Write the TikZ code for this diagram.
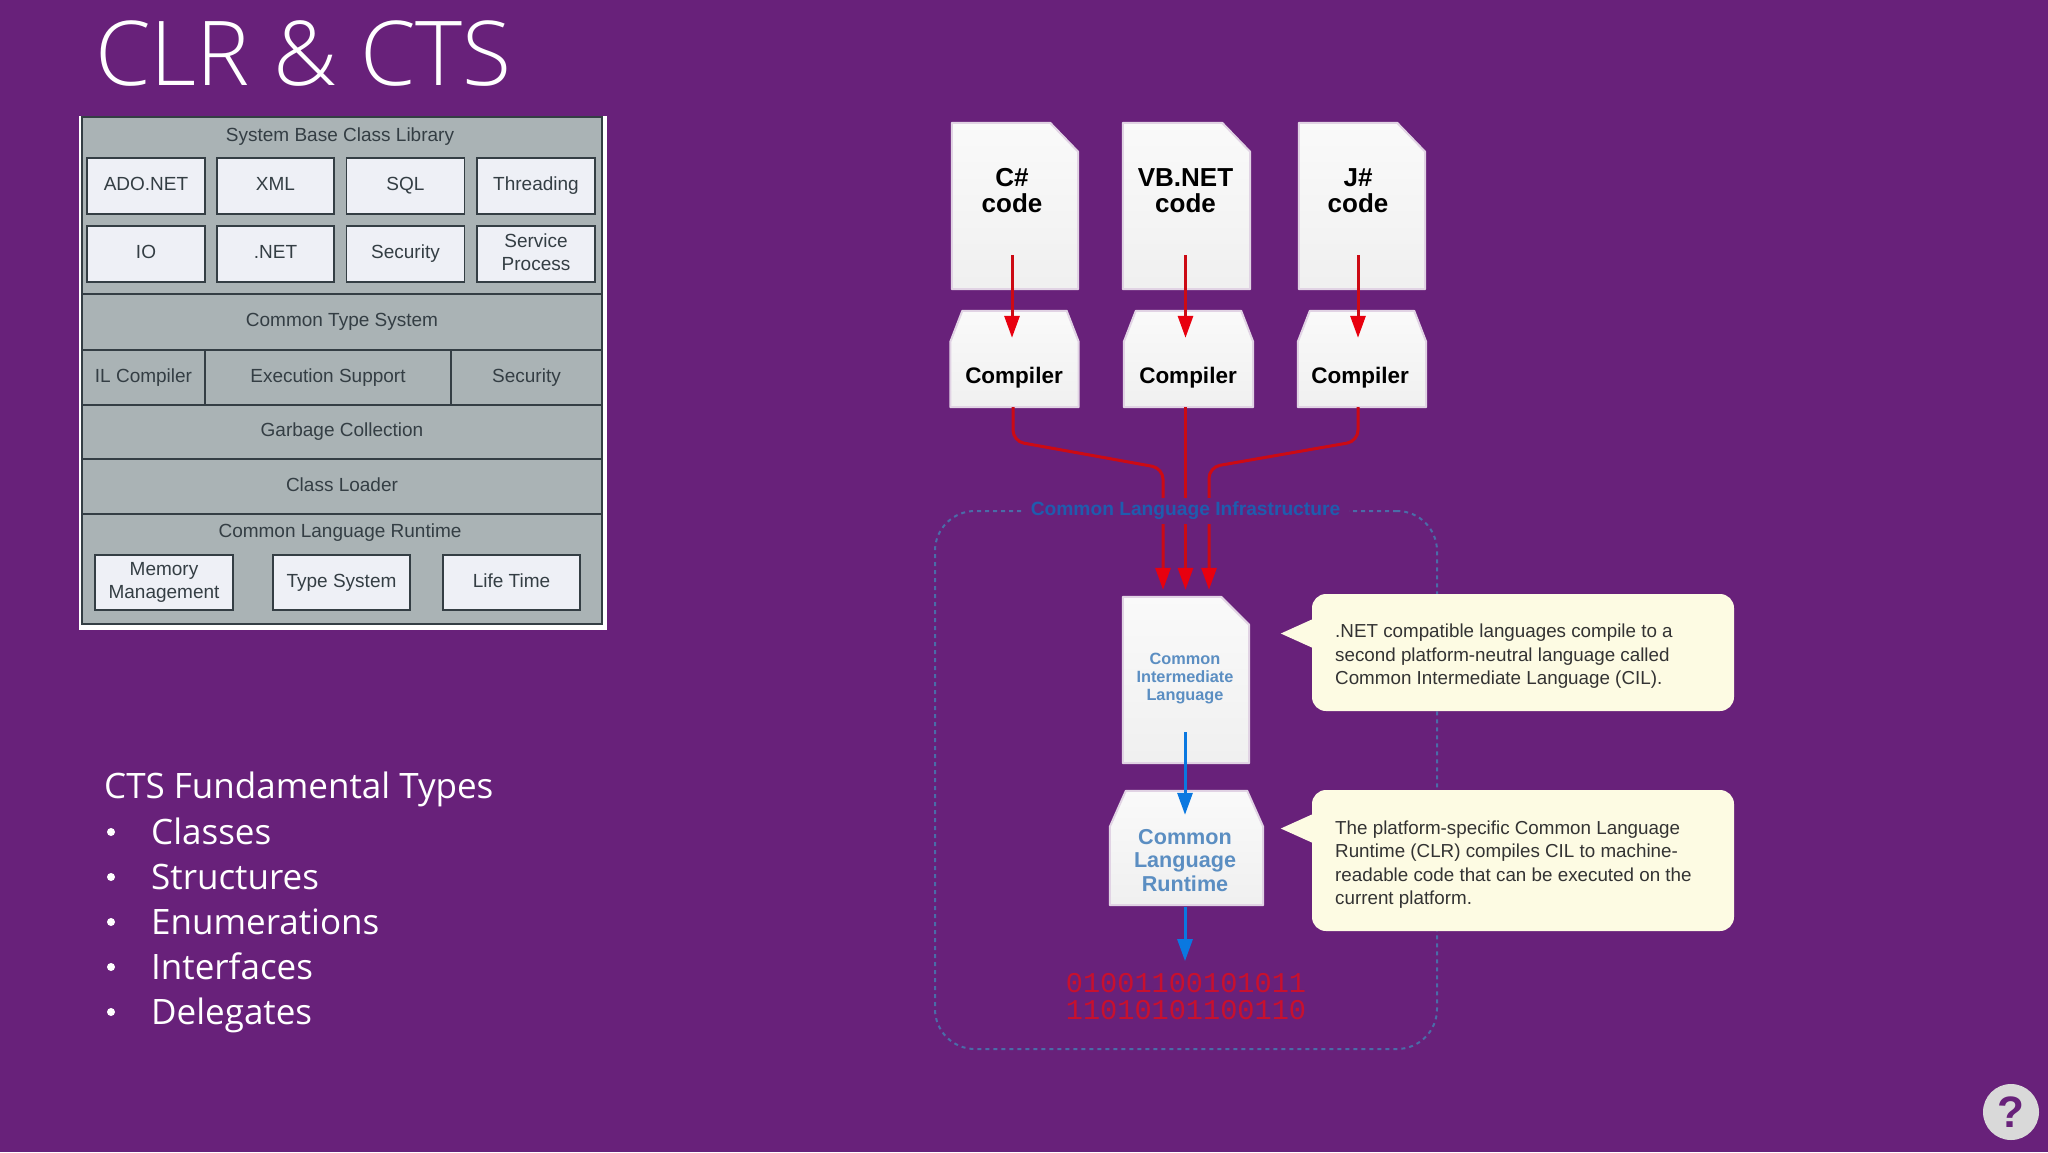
\documentclass[tikz,border=0pt]{standalone}
\usepackage{fontspec}
\setmainfont{Liberation Sans}
\newfontfamily\titlefont{Open Sans Light}
\newfontfamily\slidefont{Open Sans}
\newfontfamily\binaryfont{Liberation Mono}
\usepackage{xcolor}
\definecolor{slidebg}{HTML}{68217A}
\definecolor{panelgray}{HTML}{AAB3B5}
\definecolor{paneldark}{HTML}{343E44}
\definecolor{boxfill}{HTML}{EEF0F6}
\definecolor{arrowred}{HTML}{E8000F}
\definecolor{wirered}{HTML}{CC0A14}
\definecolor{arrowblue}{HTML}{0A78E0}
\definecolor{clitext}{HTML}{1F5CAE}
\definecolor{clidash}{HTML}{4A6CA8}
\definecolor{softblue}{HTML}{5B8EC2}
\definecolor{cream}{HTML}{FDFBE3}
\definecolor{bitred}{HTML}{C8102E}
\usepackage{tikz}
\usetikzlibrary{positioning}
\usetikzlibrary{arrows.meta}
\newcommand{\pageshape}[3]{\path[pagelook] (#1.north west) -- ([xshift=-#2]#1.north east) -- ([yshift=-#3]#1.north east) -- (#1.south east) -- (#1.south west) -- cycle;}
\newcommand{\compshape}[3]{\path[pagelook] ([xshift=#2]#1.north west) -- ([xshift=-#2]#1.north east) -- ([yshift=-#3]#1.north east) -- (#1.south east) -- (#1.south west) -- ([yshift=-#3]#1.north west) -- cycle;}
\tikzset{
  band/.style={shape=rectangle,draw=paneldark,line width=1.5pt,fill=panelgray,text=paneldark,font=\fontsize{19}{22}\selectfont,align=center,inner sep=0pt,execute at begin node={\vphantom{Tgy}}},
  libbox/.style={shape=rectangle,draw=paneldark,line width=1.5pt,fill=boxfill,text=paneldark,font=\fontsize{19}{23}\selectfont,align=center,inner sep=0pt,execute at begin node={\vphantom{Tgy}}},
  paneltext/.style={text=paneldark,font=\fontsize{19}{22}\selectfont,inner sep=0pt,execute at begin node={\vphantom{Tgy}}},
  pagelook/.style={top color=black!2,middle color=white,bottom color=black!6,draw=white!80!slidebg,line width=2pt,line join=round},
  shapeslot/.style={shape=rectangle,inner sep=0pt},
  codetext/.style={font=\bfseries\fontsize{26}{26}\selectfont,align=center,text=black,inner sep=0pt},
  comptext/.style={font=\bfseries\fontsize{22.5}{24}\selectfont,text=black,inner sep=0pt},
  redarrow/.style={draw=wirered,line width=3pt,-{Triangle[width=15pt,length=22pt,color=arrowred]}},
  bluearrow/.style={draw=arrowblue,line width=3pt,-{Triangle[width=15pt,length=22pt]}},
  callout/.style={shape=rectangle,rounded corners=14pt,fill=cream,minimum width=422pt,inner sep=0pt},
  callouttext/.style={anchor=west,text=black!80,font=\fontsize{18.8}{23.5}\selectfont,align=left,inner sep=0pt},
  bullettext/.style={text=white,font=\slidefont\fontsize{35}{40}\selectfont,anchor=base west,inner sep=0pt},
}
\begin{document}
\begin{tikzpicture}[x=1pt,y=-1pt]
\useasboundingbox (0,0) rectangle (2048,1152);
\fill[slidebg] (0,0) rectangle (2048,1152);
\node (title) at (95,53) [anchor=west,text=white,font=\titlefont\fontsize{89.5}{100}\selectfont,inner sep=0pt]{CLR \& CTS};

\node (panel) at (343,372.75) [shape=rectangle,fill=white,minimum width=528pt,minimum height=514.5pt]{};
\node (baseband) at (342,205.5) [band,minimum width=520pt,minimum height=177pt]{};
\node (ctsband) at (342,322) [band,minimum width=520pt,minimum height=55.5pt]{Common Type System};
\node (ilband) at (143.5,377.5) [band,minimum width=123pt,minimum height=55pt]{IL Compiler};
\node (execband) at (328,377.5) [band,minimum width=246pt,minimum height=55pt]{Execution Support};
\node (secband) at (526.5,377.5) [band,minimum width=151pt,minimum height=55pt]{Security};
\node (gcband) at (342,432) [band,minimum width=520pt,minimum height=54pt]{Garbage Collection};
\node (loaderband) at (342,486.5) [band,minimum width=520pt,minimum height=55pt]{Class Loader};
\node (clrband) at (342,569) [band,minimum width=520pt,minimum height=110pt]{};
\node (basetitle) at (340,137) [paneltext]{System Base Class Library};
\node (clrtitle) at (340,533) [paneltext]{Common Language Runtime};

\node (adobox) at (146,186) [libbox,minimum width=118pt,minimum height=56pt]{ADO.NET};
\node (xmlbox) at (275.5,186) [libbox,minimum width=117pt,minimum height=56pt]{XML};
\node (sqlbox) at (405.5,186) [libbox,minimum width=118pt,minimum height=56pt]{SQL};
\node (threadbox) at (536,186) [libbox,minimum width=118pt,minimum height=56pt]{Threading};
\node (iobox) at (146,254) [libbox,minimum width=118pt,minimum height=56pt]{IO};
\node (netbox) at (275.5,254) [libbox,minimum width=117pt,minimum height=56pt]{.NET};
\node (securitybox) at (405.5,254) [libbox,minimum width=118pt,minimum height=56pt]{Security};
\node (servicebox) at (536,254) [libbox,minimum width=118pt,minimum height=56pt]{Service\\Process};
\node (memorybox) at (164,582.5) [libbox,minimum width=138pt,minimum height=55pt]{Memory\\Management};
\node (typebox) at (341.5,582.5) [libbox,minimum width=137pt,minimum height=55pt]{Type System};
\node (lifebox) at (511.5,582.5) [libbox,minimum width=137pt,minimum height=55pt]{Life Time};

\node (ctshead) at (104,798) [bullettext]{CTS Fundamental Types};
\foreach \itemname/\itemy in {Classes/844,Structures/889,Enumerations/934,Interfaces/979,Delegates/1024}
{
\node (bullet\itemy) at (111,\itemy-12) [circle,fill=white,minimum size=8pt,inner sep=0pt]{};
\node (item\itemy) at (151,\itemy) [bullettext]{\itemname};
}

\node (clibox) at (1186,780) [shape=rectangle,rounded corners=40pt,draw=clidash,line width=2pt,dash pattern=on 4pt off 4pt,minimum width=502pt,minimum height=538pt]{};

\node (csdoc) at (1015,206) [shapeslot,minimum width=126pt,minimum height=166pt]{};
\node (vbdoc) at (1186.5,206) [shapeslot,minimum width=127pt,minimum height=166pt]{};
\node (jdoc) at (1362,206) [shapeslot,minimum width=126pt,minimum height=166pt]{};
\pageshape{csdoc}{28pt}{29pt}
\pageshape{vbdoc}{28pt}{29pt}
\pageshape{jdoc}{28pt}{29pt}
\node (cstext) at (1012,191) [codetext]{C\#\\code};
\node (vbtext) at (1185.5,191) [codetext]{VB.NET\\code};
\node (jtext) at (1358,191) [codetext]{J\#\\code};

\node (cscomp) at (1014.5,359) [shapeslot,minimum width=128pt,minimum height=96pt]{};
\node (vbcomp) at (1188.5,359) [shapeslot,minimum width=129pt,minimum height=96pt]{};
\node (jcomp) at (1362,359) [shapeslot,minimum width=128pt,minimum height=96pt]{};
\compshape{cscomp}{12pt}{31pt}
\compshape{vbcomp}{12pt}{31pt}
\compshape{jcomp}{12pt}{31pt}
\node (cscomptext) at (1014,378) [comptext]{Compiler};
\node (vbcomptext) at (1188,378) [comptext]{Compiler};
\node (jcomptext) at (1360,378) [comptext]{Compiler};

\node (cildoc) at (1186,680) [shapeslot,minimum width=126pt,minimum height=166pt]{};
\pageshape{cildoc}{28pt}{28pt}
\node (ciltext) at (1185,679) [font=\bfseries\fontsize{16.3}{18}\selectfont,align=center,text=softblue,inner sep=0pt]{Common\\Intermediate\\Language};
\node (clrcomp) at (1186.5,848) [shapeslot,minimum width=153pt,minimum height=114pt]{};
\compshape{clrcomp}{16pt}{36pt}
\node (clrtext) at (1185,860.5) [font=\bfseries\fontsize{21.6}{23.5}\selectfont,align=center,text=softblue,inner sep=0pt]{Common\\Language\\Runtime};
\node (binary) at (1186,996.5) [font=\binaryfont\fontsize{28.6}{27}\selectfont,align=center,text=bitred,inner sep=0pt]{01001100101011\\11010101100110};

\draw[redarrow,shorten <=-34pt,shorten >=-27pt] ([xshift=-3pt]csdoc.south) -- ([xshift=-2.5pt]cscomp.north);
\draw[redarrow,shorten <=-34pt,shorten >=-27pt] ([xshift=-1pt]vbdoc.south) -- ([xshift=-3pt]vbcomp.north);
\draw[redarrow,shorten <=-34pt,shorten >=-27pt] ([xshift=-4pt]jdoc.south) -- ([xshift=-4pt]jcomp.north);
\draw[redarrow,rounded corners=11pt] ([xshift=-1.5pt]cscomp.south) -- ++(0,34) -- ++(150,27) -- ([xshift=-23pt,yshift=7pt]cildoc.north);
\draw[redarrow] ([xshift=-3pt]vbcomp.south) -- ([xshift=-0.5pt,yshift=7pt]cildoc.north);
\draw[redarrow,rounded corners=11pt] ([xshift=-4pt]jcomp.south) -- ++(0,34) -- ++(-149,26) -- ([xshift=23pt,yshift=7pt]cildoc.north);
\draw[bluearrow,shorten <=-31pt,shorten >=-24pt] ([xshift=-1pt]cildoc.south) -- ([xshift=-1.5pt]clrcomp.north);
\draw[bluearrow,shorten <=2pt,shorten >=10pt] ([xshift=-1.5pt]clrcomp.south) -- ([xshift=-1pt,yshift=2pt]binary.north);

\node (clilabel) at (1185.5,511) [fill=slidebg,text=clitext,font=\bfseries\fontsize{19.2}{22}\selectfont,inner xsep=9pt,inner ysep=4pt]{Common Language Infrastructure};

\node (calloutone) at (1523,652.5) [callout,minimum height=117pt]{};
\node (callouttwo) at (1523,860.5) [callout,minimum height=141pt]{};
\fill[cream] ([yshift=33pt]calloutone.west) -- ++(-31,14) -- ++(31,14) -- cycle;
\fill[cream] ([yshift=46pt]callouttwo.west) -- ++(-31,14) -- ++(31,14) -- cycle;
\node (calloutonetext) at (1335,656.5) [callouttext]{.NET compatible languages compile to a\\second platform-neutral language called\\Common Intermediate Language (CIL).};
\node (callouttwotext) at (1335,864.5) [callouttext]{The platform-specific Common Language\\Runtime (CLR) compiles CIL to machine-\\readable code that can be executed on the\\current platform.};

\node (helpicon) at (2011,1112) [circle,fill=black!15,minimum size=56pt,inner sep=0pt,text=slidebg,font=\bfseries\fontsize{44}{44}\selectfont]{?};
\end{tikzpicture}
\end{document}
